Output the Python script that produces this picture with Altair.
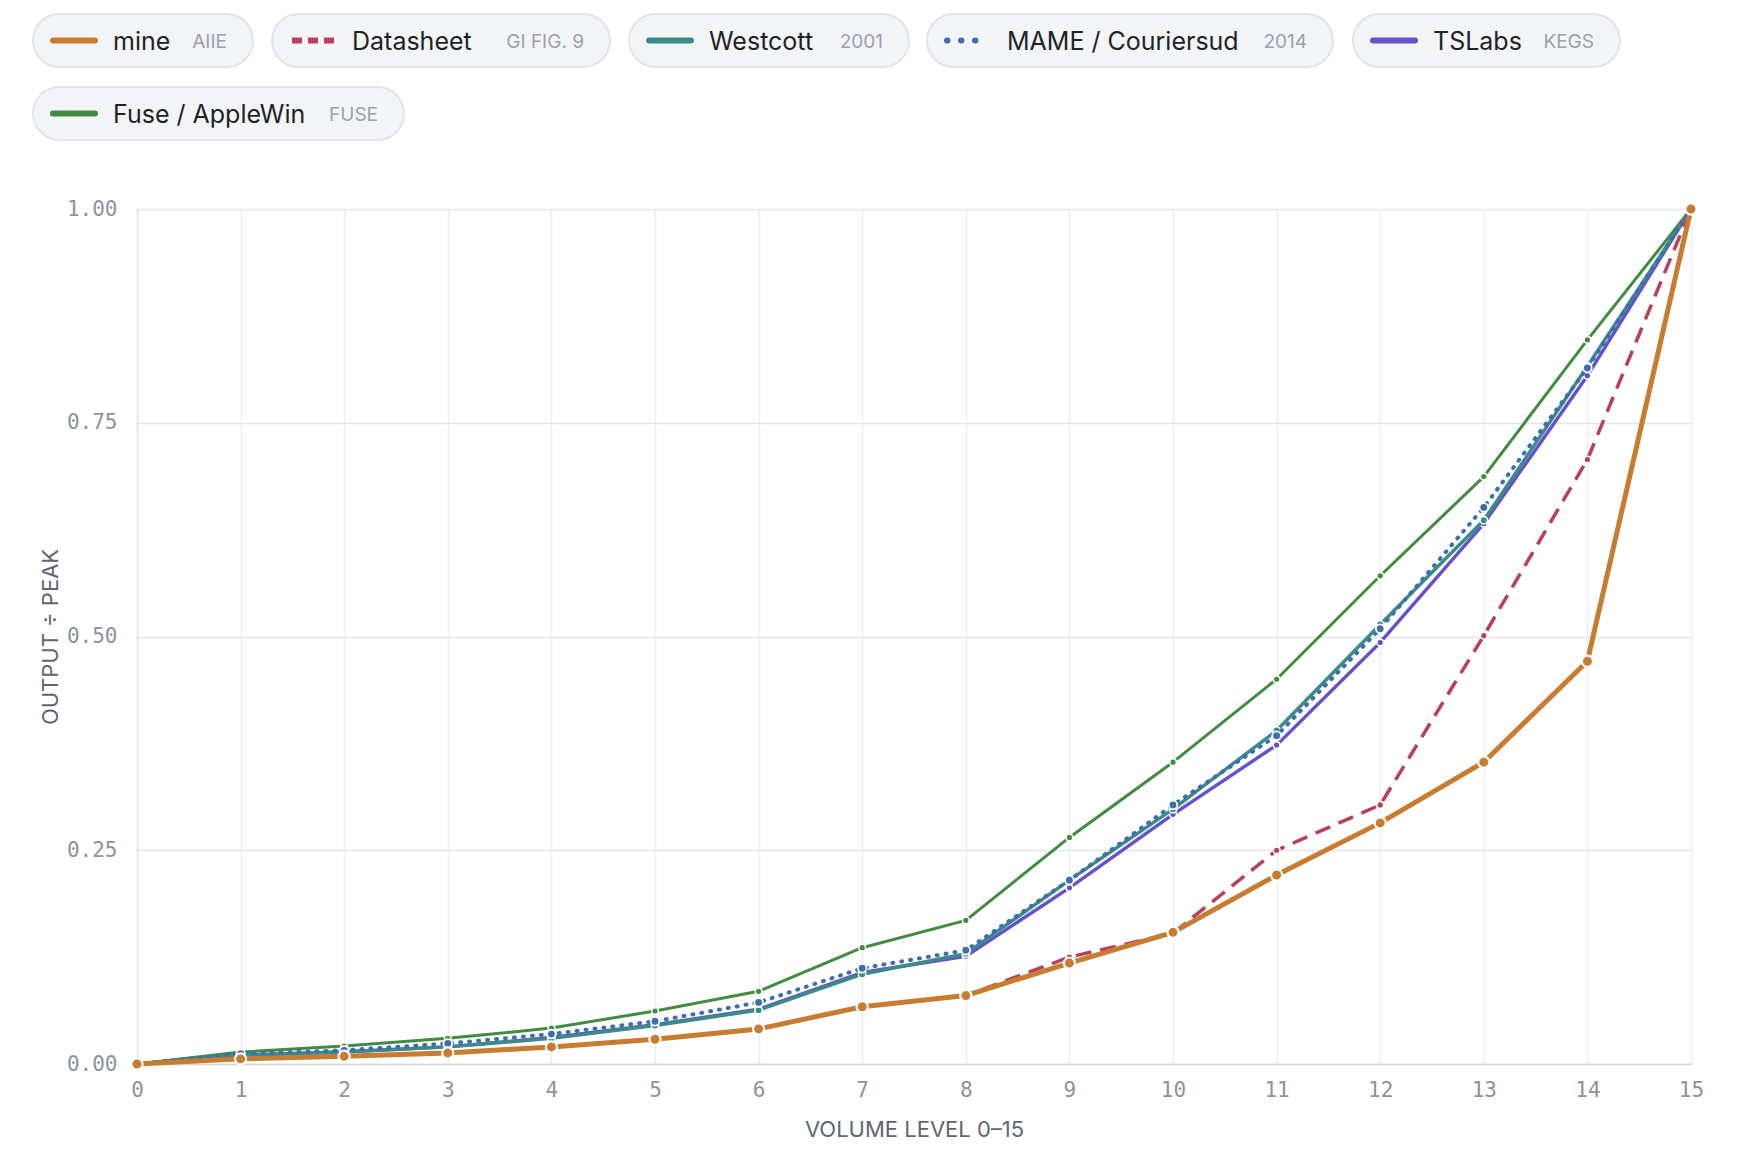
import altair as alt
import pandas as pd

# ---------------- data ----------------
levels = list(range(16))

mine      = [0, 0.006, 0.009, 0.013, 0.020, 0.029, 0.041, 0.067, 0.080, 0.118, 0.154, 0.221, 0.282, 0.353, 0.471, 1.0]
datasheet = [0, 0.006, 0.009, 0.013, 0.020, 0.029, 0.041, 0.067, 0.080, 0.125, 0.153, 0.250, 0.303, 0.501, 0.707, 1.0]
westcott  = [0, 0.0105, 0.0144, 0.020, 0.030, 0.045, 0.063, 0.105, 0.129, 0.215, 0.298, 0.390, 0.514, 0.636, 0.816, 1.0]
mame      = [0, 0.012, 0.016, 0.024, 0.035, 0.050, 0.072, 0.112, 0.133, 0.215, 0.303, 0.384, 0.509, 0.651, 0.814, 1.0]
tslabs    = [0, 0.010, 0.014, 0.020, 0.031, 0.046, 0.064, 0.107, 0.126, 0.206, 0.292, 0.373, 0.493, 0.632, 0.805, 1.0]
fuse      = [0, 0.014, 0.021, 0.030, 0.042, 0.062, 0.085, 0.136, 0.168, 0.265, 0.353, 0.450, 0.571, 0.687, 0.847, 1.0]

series_names = ["mine", "Datasheet", "Westcott", "MAME / Couriersud", "TSLabs", "Fuse / AppleWin"]
series_tags = ["AIIE", "GI FIG. 9", "2001", "2014", "KEGS", "FUSE"]
series_values = [mine, datasheet, westcott, mame, tslabs, fuse]

y_ticks = [0, 0.25, 0.5, 0.75, 1.0]

# ---------------- styles ----------------
colors = ["#c77c30", "#b8405a", "#3a8c87", "#3d6eb0", "#6551cc", "#438a43"]
line_width = [5, 3.5, 3.4, 4, 3.4, 3]
line_dash = [None, [16, 9], None, [1, 8], None, None]
line_cap = ["round", "butt", "round", "round", "round", "round"]
pt_size = [125, 45, 55, 75, 45, 45]
pt_stroke = [2.2, 1.5, 1.5, 1.8, 1.5, 1.5]
draw_order = [5, 4, 2, 3, 1, 0]

# legend chip layout (page px): left, right, row
chip_layout = [(33, 253, 0), (272, 610, 0), (629, 909, 0), (927, 1333, 0), (1353, 1620, 0), (33, 404, 1)]
legend_dash = [None, [10, 6], None, [0.5, 13.5], None, None]
legend_cap = ["round", "butt", "round", "round", "round", "round"]
PLOT_X0, PLOT_Y0 = 137, 209
PLOT_W, PLOT_H = 1554, 855
row_center = [40.5, 113.5]
CHIP_H = 53

FONT = "Inter"
MONO = "DejaVu Sans Mono"

rows = []
for name, vals in zip(series_names, series_values):
    for lv, v in zip(levels, vals):
        rows.append({"series": name, "level": lv, "value": v})
df = pd.DataFrame(rows)

xscale = alt.Scale(domain=[0, 15], nice=False, zero=False)
yscale = alt.Scale(domain=[0, 1], nice=False)

x_axis = alt.Axis(
    values=levels, title="VOLUME LEVEL 0–15", labelFont=MONO, labelFontSize=21,
    labelColor="#8b93a1", tickSize=0, labelPadding=15, labelFlush=False,
    domainColor="#d3d8df", domainWidth=1.5, gridColor="#eceef2", gridWidth=1.5,
    titleFont=FONT, titleFontSize=22, titleFontWeight="normal", titleColor="#5f6673",
    titlePadding=19,
)
y_axis = alt.Axis(
    values=y_ticks, format=".2f", title="OUTPUT ÷ PEAK", labelFont=MONO, labelFontSize=21,
    labelColor="#8b93a1", tickSize=0, labelPadding=20, labelFlush=False,
    domainColor="#e3e6eb", domainWidth=1.5, gridColor="#e3e6eb", gridWidth=1.5,
    titleFont=FONT, titleFontSize=22, titleFontWeight="normal", titleColor="#5f6673",
    titlePadding=4,
)

X = alt.X("level:Q", scale=xscale, axis=x_axis, title="VOLUME LEVEL 0–15")
Y = alt.Y("value:Q", scale=yscale, axis=y_axis, title="OUTPUT ÷ PEAK")

layers = []
for i in draw_order:
    sub = df[df["series"] == series_names[i]]
    kw = dict(color=colors[i], strokeWidth=line_width[i], strokeCap=line_cap[i], strokeJoin="round")
    if line_dash[i] is not None:
        kw["strokeDash"] = line_dash[i]
    line = alt.Chart(sub).mark_line(**kw).encode(x=X, y=Y)
    pts = alt.Chart(sub).mark_circle(
        color=colors[i], opacity=1, size=pt_size[i], stroke="white", strokeWidth=pt_stroke[i]
    ).encode(x=X, y=Y)
    layers += [line, pts]

# ---------------- legend chips (pixel-placed decoration) ----------------
for i, (l, r, row) in enumerate(chip_layout):
    cy = row_center[row] - PLOT_Y0
    x0 = l - PLOT_X0
    x1 = r - PLOT_X0
    item = pd.DataFrame({"series": [series_names[i]], "tag": [series_tags[i]]})
    chip = alt.Chart(item).mark_rect(
        cornerRadius=26.5, fill="#f3f4f6", stroke="#e2e5e9", strokeWidth=2
    ).encode(
        x=alt.value(x0), x2=alt.value(x1),
        y=alt.value(cy - CHIP_H / 2), y2=alt.value(cy + CHIP_H / 2),
    )
    kw = dict(color=colors[i], strokeWidth=6, strokeCap=legend_cap[i])
    if legend_dash[i] is not None:
        kw["strokeDash"] = legend_dash[i]
    sample = alt.Chart(item).mark_rule(**kw).encode(
        x=alt.value(x0 + 20), x2=alt.value(x0 + 62), y=alt.value(cy)
    )
    label = alt.Chart(item).mark_text(
        align="left", baseline="middle", font=FONT, fontSize=25, color="#1f2328", dy=1
    ).encode(x=alt.value(x0 + 80), y=alt.value(cy), text="series:N")
    tag = alt.Chart(item).mark_text(
        align="right", baseline="middle", font=FONT, fontSize=19, color="#9aa1ad", dy=1
    ).encode(x=alt.value(x1 - 26), y=alt.value(cy), text="tag:N")
    layers += [chip, sample, label, tag]

chart = alt.layer(*layers).properties(
    width=PLOT_W, height=PLOT_H,
    autosize=alt.AutoSizeParams(type="none"),
    padding={"left": 129, "top": 201, "right": 61, "bottom": 84},
    background="white",
).configure_view(strokeWidth=0)

chart.save("out.html", embed_options={"renderer": "svg", "actions": False})
